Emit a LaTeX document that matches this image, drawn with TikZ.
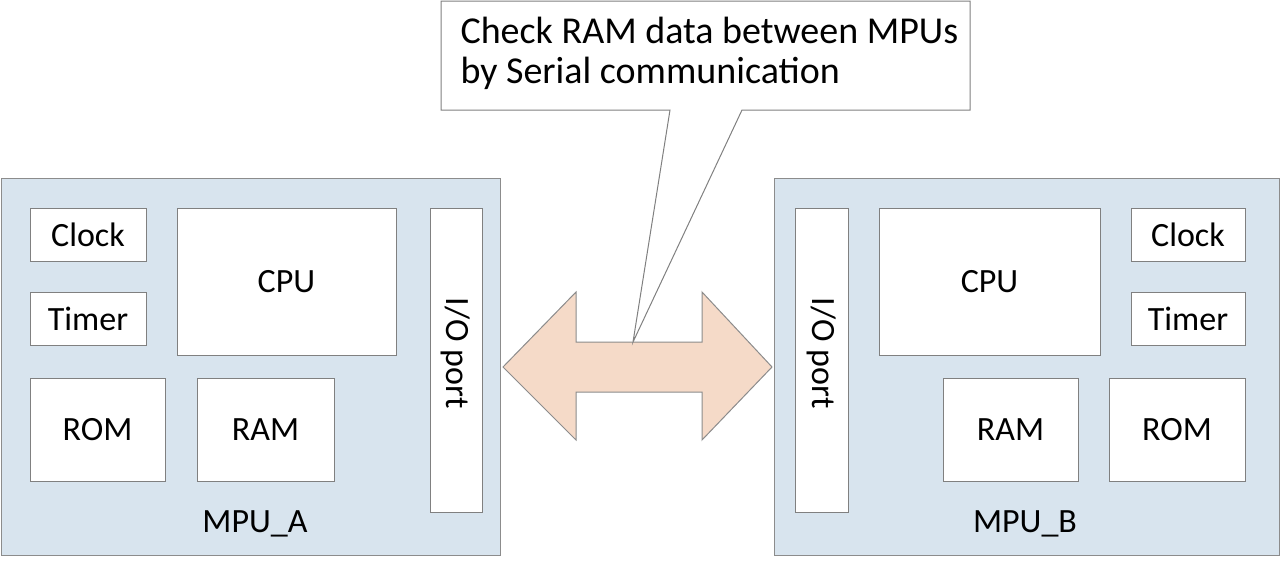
\documentclass[tikz,border=0pt]{standalone}
\usepackage{fontspec}
\setmainfont{Carlito}
\begin{document}
\begin{tikzpicture}[x=1pt,y=-1pt,
 mpu/.style={draw=black!45,fill={rgb,255:red,216;green,228;blue,238},line width=1pt},
 blk/.style={draw=black!50,fill=white,line width=1pt,font=\fontsize{34}{40}\selectfont},
 lbl/.style={font=\fontsize{34}{40}\selectfont}]
\useasboundingbox (0,0) rectangle (1284,562);
% MPU A
\draw[mpu] (1,178) rectangle (500,555);
\node[lbl] (la) at (255,524) {MPU\_A};
\draw[blk] (30,208) rectangle node (ca) {Clock} (146,261);
\draw[blk] (30,292) rectangle node (ta) {Timer} (146,345);
\draw[blk] (177,208) rectangle node (cpua) {CPU} (396,355);
\draw[blk] (30,378) rectangle node (roma) {ROM} (165,481);
\draw[blk] (197,378) rectangle node (rama) {RAM} (334,481);
\draw[blk] (430,208) rectangle node[rotate=-90,xshift=-7pt] (ioa) {I/O port} (482,512);
% MPU B
\draw[mpu] (774,178) rectangle (1279,555);
\node[lbl] (lb) at (1025,524) {MPU\_B};
\draw[blk] (795,208) rectangle node[rotate=-90,xshift=-7pt] (iob) {I/O port} (848,512);
\draw[blk] (879,208) rectangle node (cpub) {CPU} (1100,355);
\draw[blk] (1131,208) rectangle node (cb) {Clock} (1245,261);
\draw[blk] (1131,292) rectangle node (tb) {Timer} (1245,345);
\draw[blk] (943,378) rectangle node (ramb) {RAM} (1078,481);
\draw[blk] (1109,378) rectangle node (romb) {ROM} (1245,481);
% double arrow
\draw[draw=black!45,fill={rgb,255:red,245;green,218;blue,200},line width=1pt]
 (503,367) -- (576,292) -- (576,342) -- (702,342) -- (702,292) -- (772,367)
 -- (702,440) -- (702,392) -- (576,392) -- (576,440) -- cycle;
% callout
\coordinate (tip) at (633,342);
\draw[draw=black!50,fill=white,line width=1pt]
 (441,1) -- (970,1) -- (970,110) -- (742,110) -- (tip) -- (670,110) -- (441,110) -- cycle;
\node[align=left,anchor=west,font=\fontsize{38}{40}\selectfont] (call) at (457,53)
 {Check RAM data between MPUs\\by Serial communication};
\end{tikzpicture}
\end{document}
